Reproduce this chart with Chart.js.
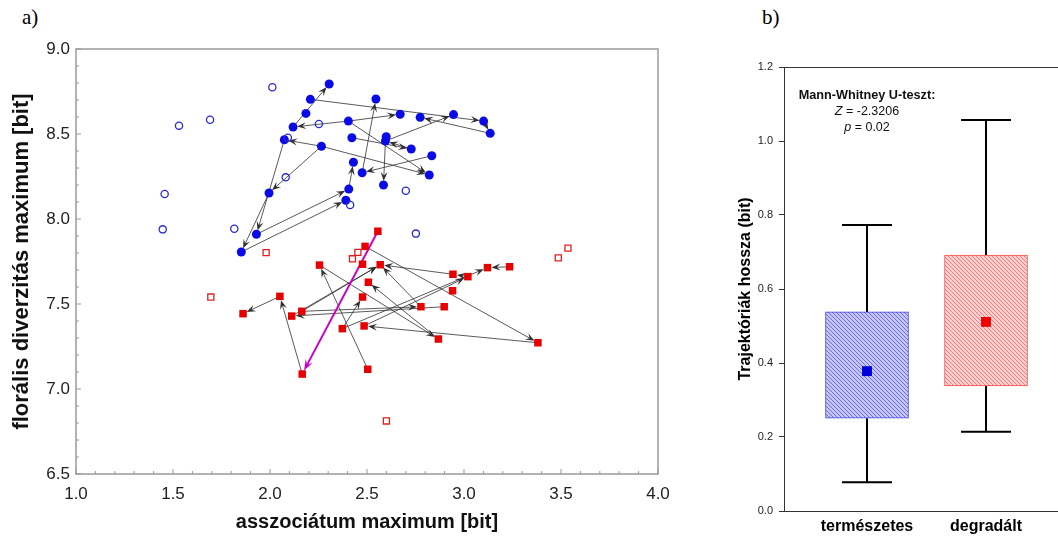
<!DOCTYPE html>
<html>
<head>
<meta charset="utf-8">
<script src="https://cdn.jsdelivr.net/npm/chart.js@4/dist/chart.umd.min.js"></script>
<style>
  body { margin: 0; background: #fff; width: 1058px; height: 536px; position: relative; overflow: hidden; }
  .panel { position: absolute; top: 0; height: 536px; }
  .tag { position: absolute; top: 5px; font: 21px "Liberation Serif", "Times New Roman", serif; color: #000; }
</style>
</head>
<body>
<div class="tag" style="left:22px">a)</div>
<div class="tag" style="left:762px">b)</div>
<div class="panel" style="left:0; width:700px"><canvas id="scatterChart"></canvas></div>
<div class="panel" style="left:700px; width:358px"><canvas id="boxChart"></canvas></div>

<script>
// ---- a) trajectories: természetes (blue circles) ----
const natFilledX = [2.305, 2.208, 2.185, 2.119, 2.074, 2.265, 1.995, 1.930, 1.852, 2.546, 2.671, 2.404, 2.774, 2.946,
                    3.101, 3.135, 2.422, 2.599, 2.595, 2.728, 2.834, 2.430, 2.475, 2.585, 2.821, 2.406, 2.391];
const natFilledY = [8.794, 8.704, 8.621, 8.541, 8.466, 8.428, 8.153, 7.910, 7.806, 8.706, 8.616, 8.576, 8.598, 8.614,
                    8.576, 8.504, 8.478, 8.484, 8.459, 8.412, 8.372, 8.334, 8.272, 8.200, 8.259, 8.176, 8.110];
const natOpenX = [2.012, 1.531, 1.691, 1.457, 1.447, 1.816, 2.081, 2.252, 2.092, 2.700, 2.413, 2.752];
const natOpenY = [8.775, 8.549, 8.584, 8.147, 7.939, 7.943, 8.245, 8.559, 8.478, 8.166, 8.082, 7.914];
const natArrowFrom = [8, 7, 25, 6, 5, 4, 3, 11, 11, 1, 14, 15, 18, 5, 5, 22, 20, 18, 19, 16, 11];
const natArrowTo   = [26, 25, 21, 8, 6, 7, 0, 3, 10, 14, 15, 12, 13, 4, 24, 9, 22, 23, 18, 19, 24];

// ---- a) trajectories: degradált (red squares) ----
const degFilledX = [2.556, 2.490, 2.477, 2.255, 2.568, 2.507, 2.477, 2.051, 1.861, 2.112, 2.164, 2.373, 2.485, 2.504,
                    2.166, 2.943, 3.020, 3.121, 3.235, 2.941, 2.778, 2.898, 2.868, 3.381];
const degFilledY = [7.928, 7.839, 7.734, 7.729, 7.731, 7.628, 7.541, 7.545, 7.443, 7.429, 7.457, 7.355, 7.371, 7.116,
                    7.088, 7.675, 7.661, 7.714, 7.719, 7.578, 7.484, 7.484, 7.294, 7.272];
const degOpenX = [1.980, 1.695, 2.453, 2.425, 3.536, 3.486, 2.600];
const degOpenY = [7.802, 7.541, 7.804, 7.766, 7.829, 7.771, 6.812];
const degArrowFrom = [7, 14, 1, 23, 11, 3, 13, 22, 20, 10, 21, 9, 15, 11, 12, 16, 18, 10];
const degArrowTo   = [8, 7, 23, 12, 6, 22, 3, 5, 4, 20, 9, 4, 4, 17, 16, 15, 17, 4];
// highlighted (magenta) trajectory step
const highlightFrom = 0;
const highlightTo = 14;

const xTicksA = [1.0, 1.5, 2.0, 2.5, 3.0, 3.5, 4.0];
const yTicksA = [6.5, 7.0, 7.5, 8.0, 8.5, 9.0];

// ---- b) box plot ----
const groups = ['természetes', 'degradált'];
const q1 = [0.251, 0.338];
const q3 = [0.538, 0.692];
const whiskerLow = [0.078, 0.214];
const whiskerHigh = [0.773, 1.057];
const means = [0.378, 0.511];
const yTicksB = [0.0, 0.2, 0.4, 0.6, 0.8, 1.0, 1.2];

const FONT = 'Arial, "Liberation Sans", sans-serif';

function pts(xs, ys) { return xs.map((x, i) => ({ x: x, y: ys[i] })); }

function arrow(ctx, x1, y1, x2, y2, color, lw, len, half, gap) {
  const a = Math.atan2(y2 - y1, x2 - x1);
  const c = Math.cos(a), s = Math.sin(a);
  const tx = x2 - c * gap, ty = y2 - s * gap;
  ctx.strokeStyle = color;
  ctx.fillStyle = color;
  ctx.lineWidth = lw;
  ctx.beginPath();
  ctx.moveTo(x1, y1);
  ctx.lineTo(tx - c * len * 0.5, ty - s * len * 0.5);
  ctx.stroke();
  ctx.beginPath();
  ctx.moveTo(tx, ty);
  ctx.lineTo(tx - c * len - s * half, ty - s * len + c * half);
  ctx.lineTo(tx - c * len * 0.6, ty - s * len * 0.6);
  ctx.lineTo(tx - c * len + s * half, ty - s * len - c * half);
  ctx.closePath();
  ctx.fill();
}

// arrows under the markers
const arrowPlugin = {
  id: 'arrows',
  beforeDatasetsDraw(chart) {
    const { ctx, scales: { x, y } } = chart;
    ctx.save();
    const seg = (xs, ys, from, to, col, lw, len, half) => {
      from.forEach((f, i) => {
        const t = to[i];
        arrow(ctx, x.getPixelForValue(xs[f]), y.getPixelForValue(ys[f]),
              x.getPixelForValue(xs[t]), y.getPixelForValue(ys[t]), col, lw, len, half, 4);
      });
    };
    seg(natFilledX, natFilledY, natArrowFrom, natArrowTo, '#303030', 0.8, 9, 3.5);
    seg(degFilledX, degFilledY, degArrowFrom, degArrowTo, '#303030', 0.8, 9, 3.5);
    seg(degFilledX, degFilledY, [highlightFrom], [highlightTo], '#c800c8', 2, 11, 4);
    ctx.restore();
  },
  afterDraw(chart) {
    // grey frame with short inward ticks
    const { ctx, chartArea: ca, scales: { x, y } } = chart;
    ctx.save();
    ctx.strokeStyle = '#9a9a9a';
    ctx.lineWidth = 1.5;
    ctx.strokeRect(ca.left, ca.top, ca.right - ca.left, ca.bottom - ca.top);
    ctx.lineWidth = 1;
    ctx.beginPath();
    for (let k = 0; k <= 30; k++) {
      const px = x.getPixelForValue(1 + k * 0.1);
      const l = k % 5 === 0 ? 5 : 3;
      ctx.moveTo(px, ca.bottom); ctx.lineTo(px, ca.bottom - l);
    }
    for (let k = 0; k <= 25; k++) {
      const py = y.getPixelForValue(6.5 + k * 0.1);
      const l = k % 5 === 0 ? 5 : 3;
      ctx.moveTo(ca.left, py); ctx.lineTo(ca.left + l, py);
    }
    ctx.stroke();
    ctx.restore();
  }
};

new Chart(document.getElementById('scatterChart'), {
  type: 'scatter',
  data: {
    datasets: [
      { data: pts(natOpenX, natOpenY), pointStyle: 'circle', radius: 3.6, borderWidth: 1.3,
        borderColor: '#2a2ad0', backgroundColor: 'rgba(255,255,255,0)' },
      { data: pts(degOpenX, degOpenY), pointStyle: 'rect', radius: 4.3, borderWidth: 1.3,
        borderColor: '#e02020', backgroundColor: 'rgba(255,255,255,0)' },
      { data: pts(natFilledX, natFilledY), pointStyle: 'circle', radius: 4.5, borderWidth: 0,
        backgroundColor: '#0a0ae6' },
      { data: pts(degFilledX, degFilledY), pointStyle: 'rect', radius: 5.3, borderWidth: 0,
        backgroundColor: '#e60000' }
    ]
  },
  options: {
    responsive: true,
    maintainAspectRatio: false,
    animation: false,
    layout: { autoPadding: false, padding: { left: 0, top: 49, right: 42, bottom: 0 } },
    plugins: { legend: { display: false }, tooltip: { enabled: false } },
    scales: {
      x: {
        type: 'linear', min: 1, max: 4,
        afterBuildTicks: s => { s.ticks = xTicksA.map(v => ({ value: v })); },
        afterFit: s => { s.height = 62; },
        grid: { display: false, drawTicks: false },
        border: { display: false },
        ticks: { padding: 10, color: '#222', font: { family: FONT, size: 17 },
                 callback: v => Number(v).toFixed(1) },
        title: { display: true, text: 'asszociátum maximum [bit]', color: '#111',
                 font: { family: FONT, size: 20, weight: 'bold' }, padding: { top: 0, bottom: 2 } }
      },
      y: {
        type: 'linear', min: 6.5, max: 9,
        afterBuildTicks: s => { s.ticks = yTicksA.map(v => ({ value: v })); },
        afterFit: s => { s.width = 76; },
        grid: { display: false, drawTicks: false },
        border: { display: false },
        ticks: { padding: 6, color: '#222', font: { family: FONT, size: 17 },
                 callback: v => Number(v).toFixed(1) },
        title: { display: true, text: 'florális diverzitás maximum [bit]', color: '#111',
                 font: { family: FONT, size: 22, weight: 'bold' }, padding: { top: 9, bottom: 0 } }
      }
    }
  },
  plugins: [arrowPlugin]
});

// diagonal hatch fill
function hatch(bg, fg) {
  const c = document.createElement('canvas');
  c.width = c.height = 4;
  const g = c.getContext('2d');
  g.fillStyle = bg;
  g.fillRect(0, 0, 4, 4);
  g.strokeStyle = fg;
  g.lineWidth = 1;
  g.beginPath();
  g.moveTo(0, 0); g.lineTo(4, 4);
  g.moveTo(-1, 3); g.lineTo(1, 5);
  g.moveTo(3, -1); g.lineTo(5, 1);
  g.stroke();
  return g.createPattern(c, 'repeat');
}

const whiskerPlugin = {
  id: 'whiskers',
  beforeDatasetsDraw(chart) {
    const { ctx, scales: { x, y } } = chart;
    ctx.save();
    ctx.strokeStyle = '#000';
    ctx.lineWidth = 2;
    ctx.beginPath();
    groups.forEach((g, i) => {
      const cx = x.getPixelForValue(i + 1);
      ctx.moveTo(cx, y.getPixelForValue(q3[i])); ctx.lineTo(cx, y.getPixelForValue(whiskerHigh[i]));
      ctx.moveTo(cx, y.getPixelForValue(q1[i])); ctx.lineTo(cx, y.getPixelForValue(whiskerLow[i]));
      [whiskerHigh[i], whiskerLow[i]].forEach(v => {
        const py = y.getPixelForValue(v);
        ctx.moveTo(cx - 25, py); ctx.lineTo(cx + 25, py);
      });
    });
    ctx.stroke();
    ctx.restore();
  },
  afterDraw(chart) {
    const { ctx, chartArea: ca } = chart;
    ctx.save();
    ctx.strokeStyle = '#333';
    ctx.lineWidth = 1;
    ctx.beginPath();
    ctx.moveTo(ca.left, ca.top + 0.5); ctx.lineTo(ca.right, ca.top + 0.5);
    ctx.stroke();
    // test annotation
    ctx.fillStyle = '#111';
    ctx.textBaseline = 'middle';
    ctx.textAlign = 'left';
    const cx = 167;
    ctx.font = 'bold 12.7px ' + FONT;
    const t0 = 'Mann-Whitney U-teszt:';
    ctx.fillText(t0, cx - ctx.measureText(t0).width / 2, 95);
    const line = (it, rest, yy) => {
      ctx.font = 'italic 12.5px ' + FONT;
      const w1 = ctx.measureText(it).width;
      ctx.font = '12.5px ' + FONT;
      const w2 = ctx.measureText(rest).width;
      const x0 = cx - (w1 + w2) / 2;
      ctx.font = 'italic 12.5px ' + FONT;
      ctx.fillText(it, x0, yy);
      ctx.font = '12.5px ' + FONT;
      ctx.fillText(rest, x0 + w1, yy);
    };
    line('Z', ' = -2.3206', 112);
    line('p', ' = 0.02', 128);
    ctx.restore();
  }
};

new Chart(document.getElementById('boxChart'), {
  type: 'bar',
  data: {
    datasets: [
      {
        data: groups.map((g, i) => ({ x: i + 1, y: [q1[i], q3[i]] })),
        backgroundColor: [hatch('#c6c6f6', '#6e6ee4'), hatch('#fcd0d0', '#f27c7c')],
        borderColor: ['#4040f0', '#f45050'],
        borderWidth: 1,
        borderSkipped: false,
        barThickness: 83,
        grouped: false,
        order: 2
      },
      {
        type: 'scatter',
        data: groups.map((g, i) => ({ x: i + 1, y: means[i] })),
        pointStyle: 'rect',
        radius: 7,
        borderWidth: 0,
        backgroundColor: ['#0000d8', '#f00000'],
        order: 1
      }
    ]
  },
  options: {
    responsive: true,
    maintainAspectRatio: false,
    animation: false,
    layout: { autoPadding: false, padding: { left: 0, top: 67, right: 0, bottom: 0 } },
    plugins: { legend: { display: false }, tooltip: { enabled: false } },
    scales: {
      x: {
        type: 'linear', min: 0.3025, max: 2.605, offset: false,
        afterBuildTicks: s => { s.ticks = groups.map((g, i) => ({ value: i + 1 })); },
        afterFit: s => { s.height = 25; s.paddingLeft = 0; s.paddingRight = 0; },
        grid: { display: false, drawTicks: false, offset: false },
        border: { display: true, color: '#333', width: 1 },
        ticks: { padding: 6, color: '#000', autoSkip: false, maxRotation: 0,
                 font: { family: FONT, size: 16, weight: 'bold' },
                 callback: v => groups[v - 1] }
      },
      y: {
        type: 'linear', min: 0, max: 1.2,
        afterBuildTicks: s => { s.ticks = yTicksB.map(v => ({ value: v })); },
        afterFit: s => { s.width = 84; },
        grid: { drawOnChartArea: false, drawTicks: true, tickLength: 5, color: '#333' },
        border: { display: true, color: '#333', width: 1 },
        ticks: { padding: 6, color: '#222', font: { family: FONT, size: 11 },
                 callback: v => Number(v).toFixed(1) },
        title: { display: true, text: 'Trajektóriák hossza (bit)', color: '#000',
                 font: { family: FONT, size: 16, weight: 'bold' }, padding: { top: 36, bottom: 0 } }
      }
    }
  },
  plugins: [whiskerPlugin]
});
</script>
</body>
</html>
